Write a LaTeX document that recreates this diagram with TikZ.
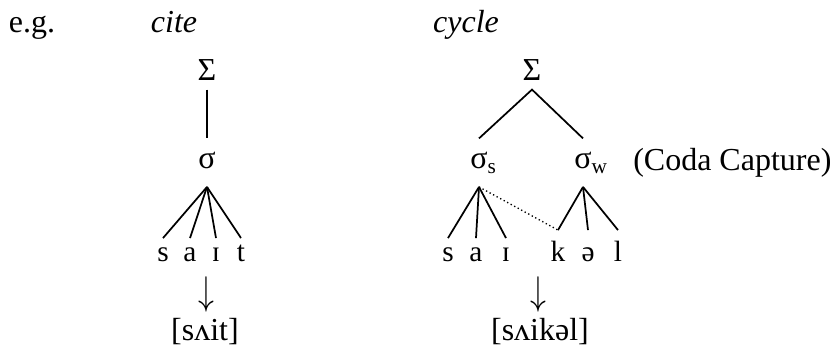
\documentclass[tikz,border=0pt]{standalone}
\usepackage{fontspec}
\setmainfont{Liberation Serif}
\newcommand{\subsz}[1]{\rlap{\raisebox{-4.2pt}{\fontsize{16}{16}\selectfont #1}}}
\begin{document}
\begin{tikzpicture}[x=0.75pt,y=-0.75pt,
  every node/.style={font=\fontsize{24}{28}\selectfont, inner sep=0pt},
  tree/.style={line width=1.3pt},
  lbl/.style={anchor=base},
  topnode/.style={anchor=base, text depth=7pt},
  syl/.style={anchor=base, text height=22pt, text depth=14pt},
  seg/.style={anchor=base, text height=17pt, text depth=0pt, font=\fontsize{22}{26}\selectfont},
  tallseg/.style={seg, text height=23pt},
  deriv/.style={font=\fontsize{20}{24}\selectfont}]
\useasboundingbox (0,0) rectangle (830,350);

% headings
\node[lbl] (eg) at (32,32) {e.g.};
\node[lbl] (cite) at (174,32) {\itshape cite};
\node[lbl] (cycle) at (466,32) {\itshape cycle};

% left tree: cite
\node[topnode] (SigL) at (207,80) {Σ};
\node[syl] (sL) at (207,168) {σ};
\node[seg] (l1) at (163,261) {s};
\node[seg] (l2) at (190,261) {a};
\node[seg] (l3) at (216,261) {ɪ};
\node[seg] (l4) at (241,261) {t};
\draw[tree] (SigL.south) -- (sL.north);
\foreach \n in {l1,l2,l3,l4} \draw[tree] (sL.south) -- (\n.north);
\node[deriv] (arrL) at (206,294) {\scalebox{1.15}[1.45]{$\downarrow$}};
\node[lbl] (outL) at (205,340) {[sʌit]};

% right tree: cycle
\node[topnode] (SigR) at (532,80) {Σ};
\node[syl] (ss) at (479,168) {σ\subsz{s}};
\node[syl] (sw) at (583,168) {σ\subsz{w}};
\node[seg] (r1) at (448,261) {s};
\node[seg] (r2) at (476,261) {a};
\node[seg] (r3) at (506,261) {ɪ};
\node[tallseg] (r4) at (558,261) {k};
\node[tallseg] (r5) at (588,261) {ə};
\node[tallseg] (r6) at (618,261) {l};
\draw[tree] (ss.north) -- (SigR.south) -- (sw.north);
\foreach \n in {r1,r2,r3} \draw[tree] (ss.south) -- (\n.north);
\foreach \n in {r4,r5,r6} \draw[tree] (sw.south) -- (\n.north);
\draw[line width=1pt, dotted] (ss.south) -- (r4.north);
\node[deriv] (arrR) at (538,294) {\scalebox{1.15}[1.45]{$\downarrow$}};
\node[lbl] (outR) at (540,340) {[sʌikəl]};

\node[lbl, anchor=base west] (coda) at (633,170) {(Coda Capture)};
\end{tikzpicture}
\end{document}
